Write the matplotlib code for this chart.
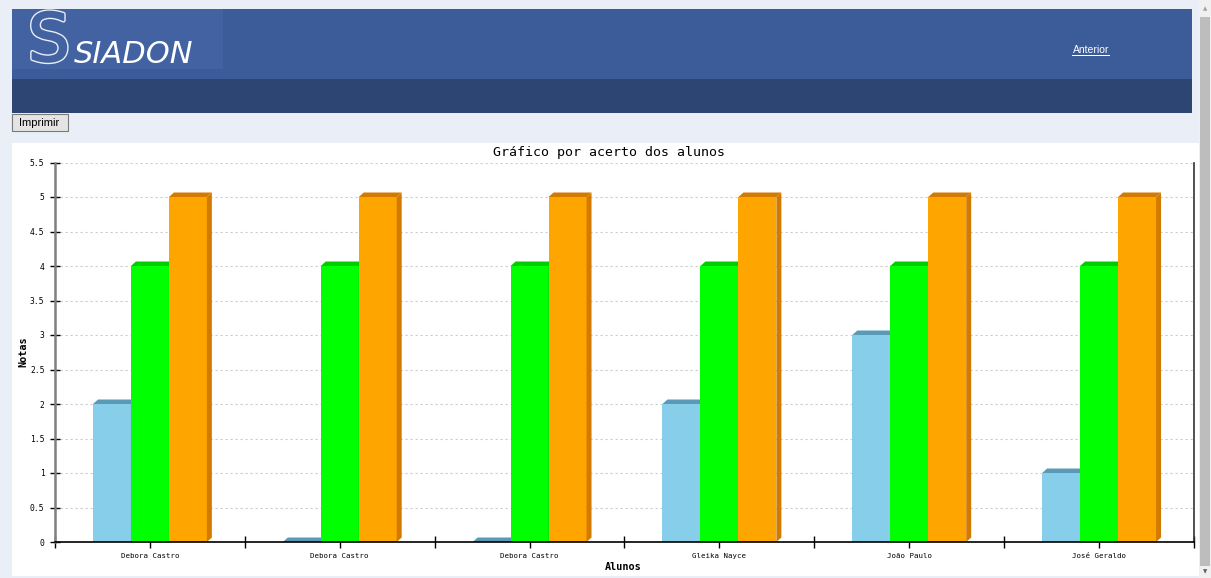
import matplotlib
matplotlib.use('Agg')
import matplotlib.pyplot as plt
from matplotlib.patches import Rectangle, Polygon
import matplotlib.patheffects as pe
import numpy as np

# ---------------- data ----------------
students = ['Debora Castro', 'Debora Castro', 'Debora Castro',
            'Gleika Nayce', 'João Paulo', 'José Geraldo']
serie_azul = [2, 0, 0, 2, 3, 1]
serie_verde = [4, 4, 4, 4, 4, 4]
serie_laranja = [5, 5, 5, 5, 5, 5]
y_ticks = [0, 0.5, 1, 1.5, 2, 2.5, 3, 3.5, 4, 4.5, 5, 5.5]
y_tick_labels = ['0', '0.5', '1', '1.5', '2', '2.5', '3', '3.5', '4', '4.5', '5', '5.5']
title = 'Gráfico por acerto dos alunos'
x_label = 'Alunos'
y_label = 'Notas'

W, H = 1211, 578
fig = plt.figure(figsize=(W / 100, H / 100), dpi=100)
fig.patch.set_facecolor('#e9eef7')


def rect(x0, y0, x1, y1, z=-5, **kw):
    fig.add_artist(Rectangle((x0 / W, 1 - y1 / H), (x1 - x0) / W, (y1 - y0) / H,
                             transform=fig.transFigure, zorder=z, **kw))


def txt(x, y, s, **kw):
    return fig.text(x / W, 1 - y / H, s, **kw)


# ---------------- page chrome ----------------
rect(12, 9, 1192, 79, facecolor='#3b5b99', edgecolor='none')
rect(12, 9, 223, 69, z=-4, facecolor='#4262a1', edgecolor='none')
rect(12, 79, 1192, 113, facecolor='#2d4572', edgecolor='none')
# big S outline (double line)
txt(49, 61, 'S', fontsize=48, family='DejaVu Sans', color='#4262a1',
    ha='center', va='baseline', zorder=2,
    path_effects=[pe.Stroke(linewidth=3.2, foreground='#e8eef8'),
                  pe.Stroke(linewidth=1.2, foreground='#4262a1'), pe.Normal()])
txt(74, 63, 'SIADON', fontsize=22, family='DejaVu Sans', style='italic', color='white',
    ha='left', va='baseline', zorder=3)
txt(1091, 50, 'Anterior', fontsize=7.5, family='Liberation Sans', color='white',
    ha='center', va='center')
rect(1072, 55, 1110, 56, z=2, facecolor='white', edgecolor='none')

# Imprimir button
rect(11.5, 114, 67.5, 131, facecolor='#e4e4e4', edgecolor='#7a7a7a', linewidth=0.8)
txt(39.5, 122.5, 'Imprimir', fontsize=8, family='Liberation Sans', color='black',
    ha='center', va='center')

# scrollbar
rect(1199, 0, 1211, 578, facecolor='#f0f0f0', edgecolor='none')
rect(1200, 17, 1210, 566, facecolor='#bdbdbd', edgecolor='none')
txt(1205, 9, '▲', fontsize=4, color='#a0a0a0', ha='center', va='center')
txt(1205, 572, '▼', fontsize=4, color='#606060', ha='center', va='center')

# white chart panel
rect(12, 143, 1199, 576, facecolor='white', edgecolor='none')

# ---------------- chart ----------------
ax = fig.add_axes([55 / W, 36 / H, (1194 - 55) / W, (542 - 162.5) / H])
ax.set_facecolor('none')
n = len(students)
x = np.arange(n)
ax.set_xlim(-0.5, n - 0.5)
ax.set_ylim(0, 5.5)

bw = 0.2
dx = 5 / 190.0
dy = 4.5 / 69.0
series = [
    (serie_azul, '#87ceeb', '#5b9ab6', -bw),
    (serie_verde, '#00ff00', '#00cc00', 0.0),
    (serie_laranja, '#ffa500', '#d27b00', bw),
]
for k, (vals, face, dark, off) in enumerate(series):
    z = 3 + k
    ax.bar(x + off, vals, width=bw, color=face, edgecolor='none', zorder=z)
    for xi, v in zip(x, vals):
        x0 = xi + off - bw / 2
        x1 = xi + off + bw / 2
        ax.add_patch(Polygon([(x0, v), (x1, v), (x1 + dx, v + dy), (x0 + dx, v + dy)],
                             closed=True, facecolor=dark, edgecolor='none', zorder=z + 0.1))
        ax.add_patch(Polygon([(x1, 0), (x1 + dx, dy), (x1 + dx, v + dy), (x1, v)],
                             closed=True, facecolor=dark, edgecolor='none', zorder=z + 0.1))

# grid
for yv in y_ticks[1:]:
    ax.axhline(yv, color='#cccccc', linewidth=0.8, linestyle=(0, (2, 2.5)), zorder=1)

ax.set_yticks(y_ticks)
ax.set_yticklabels(y_tick_labels, family='DejaVu Sans Mono', fontsize=5.8)
ax.set_xticks(x)
ax.set_xticklabels(students, family='DejaVu Sans Mono', fontsize=5.3)
ax.set_xticks(np.arange(n + 1) - 0.5, minor=True)
ax.tick_params(axis='y', direction='inout', length=7, width=1, color='black', pad=4)
ax.tick_params(axis='x', which='major', direction='out', length=4, width=1, color='black', pad=4)
ax.tick_params(axis='x', which='minor', direction='inout', length=9, width=1, color='black')

ax.spines['top'].set_visible(False)
ax.spines['right'].set_color('#333333')
ax.spines['right'].set_linewidth(1.2)
ax.spines['left'].set_color('#7f7f7f')
ax.spines['left'].set_linewidth(1.8)
ax.spines['bottom'].set_color('black')
ax.spines['bottom'].set_linewidth(1.2)
ax.spines['bottom'].set_zorder(10)

txt(609, 153, title, fontsize=9.5, family='DejaVu Sans Mono', ha='center', va='center')
txt(623, 567, x_label, fontsize=7.3, family='DejaVu Sans Mono', weight='bold',
    ha='center', va='center')
txt(23, 352, y_label, fontsize=7.3, family='DejaVu Sans Mono', weight='bold',
    ha='center', va='center', rotation=90)

fig.savefig('out.png', dpi=100, facecolor=fig.get_facecolor())
